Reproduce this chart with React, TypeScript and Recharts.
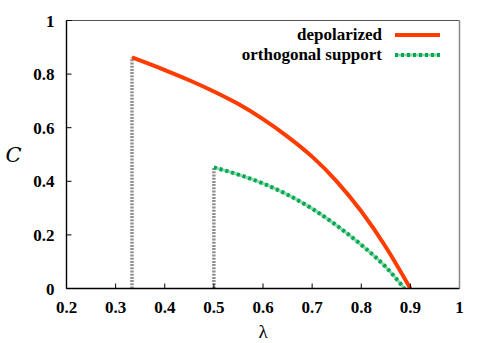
import { Legend, Line, LineChart, XAxis, YAxis } from 'recharts'

// coherence vs lambda
const depolarized = [
  { x: 0.3333, y: 0.862 },
  { x: 0.4, y: 0.815 },
  { x: 0.45, y: 0.777 },
  { x: 0.5, y: 0.735 },
  { x: 0.55, y: 0.688 },
  { x: 0.6, y: 0.632 },
  { x: 0.65, y: 0.567 },
  { x: 0.7, y: 0.492 },
  { x: 0.75, y: 0.4 },
  { x: 0.8, y: 0.288 },
  { x: 0.85, y: 0.155 },
  { x: 0.9, y: 0 },
]

const orthogonal = [
  { x: 0.5, y: 0.452 },
  { x: 0.55, y: 0.425 },
  { x: 0.6, y: 0.392 },
  { x: 0.65, y: 0.35 },
  { x: 0.7, y: 0.298 },
  { x: 0.75, y: 0.235 },
  { x: 0.8, y: 0.163 },
  { x: 0.85, y: 0.08 },
  { x: 0.888, y: 0 },
]

// vertical drops at the start of each curve
const dropDepolarized = [
  { x: 0.3333, y: 0 },
  { x: 0.3333, y: 0.862 },
]
const dropOrthogonal = [
  { x: 0.5, y: 0 },
  { x: 0.5, y: 0.452 },
]

const xTicks = [0.2, 0.3, 0.4, 0.5, 0.6, 0.7, 0.8, 0.9, 1]
const yTicks = [0, 0.2, 0.4, 0.6, 0.8, 1]

const RED = '#ff3c00'
const GREEN = '#00a84f'
const GREEN_LIGHT = '#8fd8ae'
const GRAY = '#909090'
const FONT = '"Liberation Serif", "Times New Roman", serif'

const tickStyle = { fill: '#000', fontSize: 17, fontWeight: 700, fontFamily: FONT }

function LegendSample({ color }: { color: string }) {
  return (
    <svg width={45} height={20} style={{ display: 'block' }}>
      {color === GREEN ? (
        <>
          <line x1={0} y1={10} x2={45} y2={10} stroke={GREEN_LIGHT} strokeWidth={3} />
          <line x1={0} y1={10} x2={45} y2={10} stroke={GREEN} strokeWidth={4} strokeDasharray="3 3" />
        </>
      ) : (
        <line x1={0} y1={10} x2={45} y2={10} stroke={color} strokeWidth={4} />
      )}
    </svg>
  )
}

function renderLegend(props: any) {
  const items = (props.payload || []).filter((p: any) => p.type !== 'none')
  return (
    <div
      style={{
        display: 'grid',
        gridTemplateColumns: 'auto 45px',
        columnGap: 13,
        alignItems: 'center',
        fontFamily: FONT,
        fontWeight: 700,
        fontSize: 17,
        lineHeight: '20px',
      }}
    >
      {items.map((p: any) => (
        <div key={p.value} style={{ display: 'contents' }}>
          <span style={{ textAlign: 'right', color: '#000' }}>{p.value}</span>
          <LegendSample color={p.color} />
        </div>
      ))}
    </div>
  )
}

export default function App() {
  return (
    <div style={{ position: 'absolute', left: 0, top: 0, width: 491, height: 343, background: '#fff' }}>
      <LineChart width={491} height={343} margin={{ top: 19.5, right: 30.5, bottom: 53.5, left: 65.5 }}>
        <XAxis
          type="number"
          dataKey="x"
          domain={[0.2, 1]}
          ticks={xTicks}
          allowDataOverflow
          height={1}
          tickSize={-5}
          tickMargin={17}
          tick={tickStyle}
          axisLine={{ stroke: '#000', strokeWidth: 1.4 }}
          tickLine={{ stroke: '#000' }}
          label={{ value: 'λ', position: 'bottom', offset: 35, fontSize: 19, fontFamily: FONT, fill: '#000' }}
        />
        <XAxis
          xAxisId="top"
          orientation="top"
          type="number"
          domain={[0.2, 1]}
          ticks={xTicks}
          allowDataOverflow
          height={1}
          tickSize={-5}
          tick={false}
          axisLine={{ stroke: '#555', strokeWidth: 1.2 }}
          tickLine={{ stroke: '#444' }}
        />
        <YAxis
          type="number"
          domain={[0, 1]}
          ticks={yTicks}
          allowDataOverflow
          width={1}
          tickSize={-5}
          tickMargin={17}
          tick={tickStyle}
          axisLine={{ stroke: '#000', strokeWidth: 1.4 }}
          tickLine={{ stroke: '#000' }}
          label={{
            value: 'C',
            position: 'left',
            offset: 44,
            fontSize: 21,
            fontStyle: 'italic',
            fontFamily: '"DejaVu Serif", serif',
            fill: '#000',
          }}
        />
        <YAxis
          yAxisId="right"
          orientation="right"
          type="number"
          domain={[0, 1]}
          ticks={yTicks}
          allowDataOverflow
          width={1}
          tickSize={-5}
          tick={false}
          axisLine={{ stroke: '#888', strokeWidth: 1.5 }}
          tickLine={{ stroke: '#888' }}
        />
        <Legend
          content={renderLegend}
          layout="horizontal"
          verticalAlign="middle"
          align="center"
          wrapperStyle={{ top: 25, right: 51, left: 'auto', width: 'auto', height: 'auto' }}
        />
        <Line
          data={dropDepolarized}
          dataKey="y"
          stroke={GRAY}
          strokeWidth={3.5}
          strokeDasharray="2 1.2"
          dot={false}
          legendType="none"
          isAnimationActive={false}
        />
        <Line
          data={dropOrthogonal}
          dataKey="y"
          stroke={GRAY}
          strokeWidth={3.5}
          strokeDasharray="2 1.2"
          dot={false}
          legendType="none"
          isAnimationActive={false}
        />
        <Line
          data={depolarized}
          dataKey="y"
          name="depolarized"
          type="monotone"
          stroke={RED}
          strokeWidth={4}
          dot={false}
          isAnimationActive={false}
        />
        <Line
          data={orthogonal}
          dataKey="y"
          name="orthogonal support light"
          type="monotone"
          stroke={GREEN_LIGHT}
          strokeWidth={3}
          dot={false}
          legendType="none"
          isAnimationActive={false}
        />
        <Line
          data={orthogonal}
          dataKey="y"
          name="orthogonal support"
          type="monotone"
          stroke={GREEN}
          strokeWidth={4}
          strokeDasharray="3 3"
          dot={false}
          isAnimationActive={false}
        />
      </LineChart>
    </div>
  )
}
